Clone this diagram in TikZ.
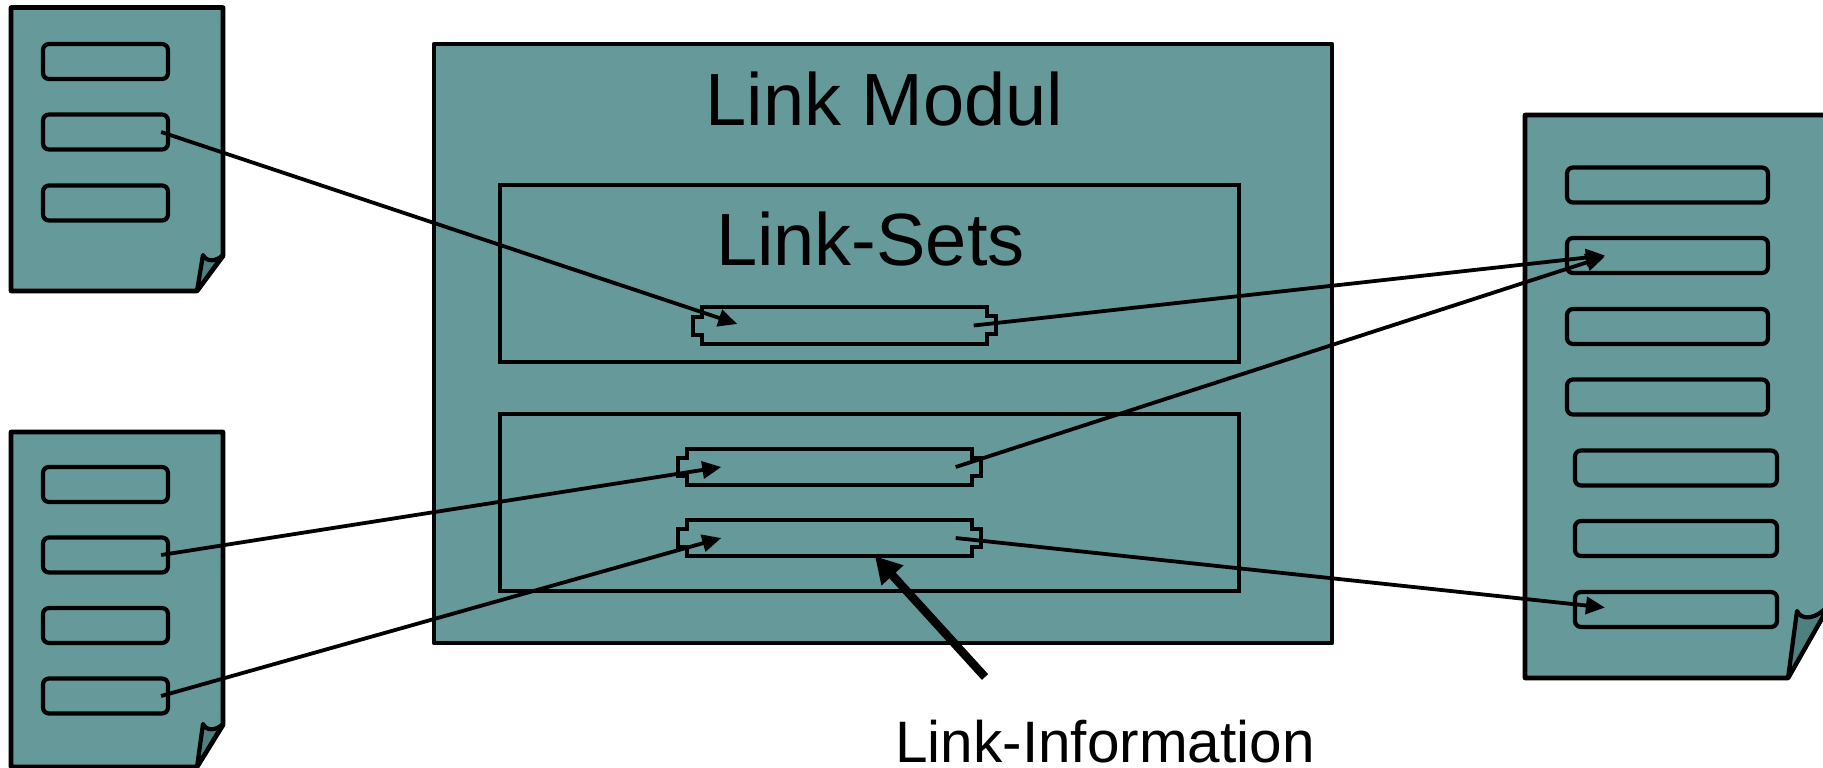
\documentclass[tikz,border=0pt]{standalone}
\usepackage{fontspec}
\setmainfont{Liberation Sans}
\usetikzlibrary{arrows.meta,calc}
\definecolor{sheet}{HTML}{669999}
\definecolor{fold}{HTML}{4F8080}

\tikzset{
  panel/.style={draw=black, fill=sheet, line width=4.6pt, line join=round},
  flap/.style={draw=black, fill=fold, line width=4.2pt, line join=round},
  frame/.style={draw=black, line width=4.4pt},
  field/.style={draw=black, line width=4.2pt, rounded corners=6pt, inner sep=0pt,
                minimum height=35pt, minimum width=125pt},
  cell/.style={inner sep=0pt, minimum width=284pt, minimum height=36pt},
  cellline/.style={draw=black, line width=4.2pt, line join=miter},
  conn/.style={line width=3.8pt, -{Triangle[length=19pt,width=17pt]}},
  pointer/.style={line width=8.5pt, -{Triangle[length=26pt,width=28pt]}},
  title/.style={font=\fontsize{74}{80}\selectfont, anchor=base, inner sep=0pt},
  caption/.style={font=\fontsize{58.5}{64}\selectfont, anchor=base, inner sep=0pt},
}

% a link cell: a bar with a small notch on each end
\newcommand\linkcell[2]{%
  \node[cell] (#1) at (#2) {};
  \draw[cellline] (#1.north west) -- (#1.north east) -- ++(0,9) -- ++(9,0)
    -- ++(0,18) -- ++(-9,0) -- (#1.south east) -- (#1.south west)
    -- ++(0,-9) -- ++(-9,0) -- ++(0,-18) -- ++(9,0) -- cycle;
}

\begin{document}
\begin{tikzpicture}[x=1pt,y=-1pt]
\clip (0,0) rectangle (1823,768);
\useasboundingbox (0,0) rectangle (1823,768);

% ---- source document, top left
\draw[panel] (11,7.5) -- (223,7.5) -- (223,256) -- (197,291) -- (11,291) -- cycle;
\draw[flap] (197,291) -- (203,255) .. controls (206,262) and (216,262) .. (223,255) -- cycle;
\node[field] (a1) at (105.5,61.5) {};
\node[field] (a2) at (105.5,132) {};
\node[field] (a3) at (105.5,203) {};

% ---- source document, bottom left
\draw[panel] (11,432) -- (223,432) -- (223,725) -- (197,767) -- (11,767) -- cycle;
\draw[flap] (197,767) -- (203,724) .. controls (206,731) and (216,731) .. (223,724) -- cycle;
\node[field] (b1) at (105.5,484.5) {};
\node[field] (b2) at (105.5,555) {};
\node[field] (b3) at (105.5,625.5) {};
\node[field] (b4) at (105.5,696) {};

% ---- target document, right
\draw[panel] (1525,115) -- (1830,115) -- (1830,604) -- (1788,678) -- (1525,678) -- cycle;
\draw[flap] (1788,678) -- (1797,611) .. controls (1801,620) and (1815,621) .. (1830,604) -- cycle;
\node[field, minimum width=201pt] (c1) at (1667.5,185) {};
\node[field, minimum width=201pt] (c2) at (1667.5,255.5) {};
\node[field, minimum width=201pt] (c3) at (1667.5,326.5) {};
\node[field, minimum width=201pt] (c4) at (1667.5,397) {};
\node[field, minimum width=202pt] (c5) at (1676,468) {};
\node[field, minimum width=202pt] (c6) at (1676,538.5) {};
\node[field, minimum width=202pt] (c7) at (1676,609.5) {};

% ---- link module
\draw[panel] (434,44) rectangle (1332,643);
\node[title] (modul) at (884.5,125) {Link Modul};
\draw[frame] (500,185) rectangle (1239,362);
\node[title] (sets) at (870.5,265) {Link-Sets};
\draw[frame] (500,414) rectangle (1239,591);

\linkcell{s1}{844.5,325.5}
\linkcell{s2}{829.5,467}
\linkcell{s3}{829.5,538}

\node[caption] (info) at (1105,762) {Link-Information};
\coordinate (infotail) at (985,677);

% ---- connectors
\draw[conn] ([xshift=-9pt]a2.east) -- ([xshift=35pt,yshift=1.5pt]s1.west);
\draw[conn] ([xshift=-13pt]s1.east) -- ([xshift=40pt]c2.west);
\draw[conn] ([xshift=-16pt]s2.east) -- ([xshift=40pt,yshift=-1pt]c2.west);
\draw[conn] ([xshift=-9pt]b2.east) -- ([xshift=34pt]s2.west);
\draw[conn] ([xshift=-9pt]b4.east) -- ([xshift=34pt]s3.west);
\draw[conn] ([xshift=-16pt]s3.east) -- ([xshift=32pt,yshift=2pt]c7.west);
\draw[pointer] (infotail) -- ([xshift=45.5pt]s3.south);
\end{tikzpicture}
\end{document}
